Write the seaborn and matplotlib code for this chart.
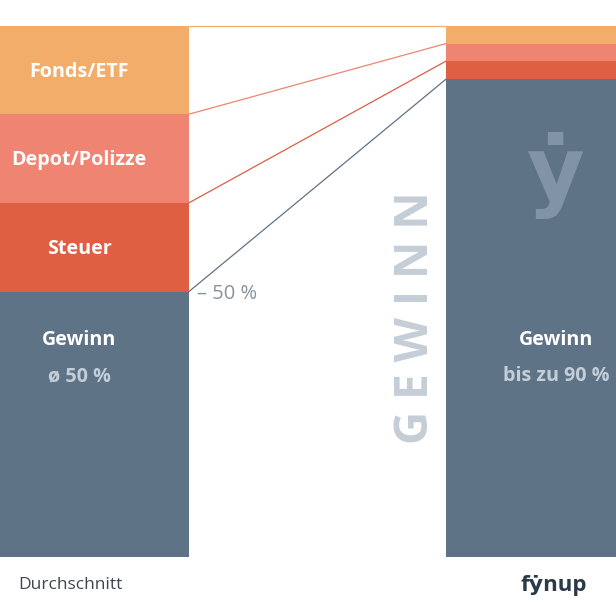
import numpy as np
import pandas as pd
import seaborn as sns
import matplotlib.pyplot as plt

# values, in percent of the gross return
categories = ["Durchschnitt", "fynup"]
gewinn = [50, 90]
steuer = [16.7, 3.4]
depot = [16.7, 3.3]
fonds = [16.6, 3.3]

segment_names = ["Gewinn", "Steuer", "Depot/Polizze", "Fonds/ETF"]
colors = ["#5e7386", "#de5f42", "#ee8471", "#f2ad6a"]

sns.set_theme(style="white")
plt.rcParams['font.family'] = ['Open Sans', 'DejaVu Sans']

df = pd.DataFrame({"cat": categories, "Gewinn": gewinn, "Steuer": steuer,
                   "Depot/Polizze": depot, "Fonds/ETF": fonds})
# cumulative tops, drawn from the tallest down so they stack
cum = df[segment_names].cumsum(axis=1)

fig = plt.figure(figsize=(6.16, 6.16), dpi=100)
ax = fig.add_axes([0, 0, 1, 1])

bar_w = 0.461
for name, c in reversed(list(zip(segment_names, colors))):
    sns.barplot(x=df["cat"], y=cum[name], color=c, width=bar_w, ax=ax,
                saturation=1, linewidth=0)

ax.set_xlim(-0.1656, 1.1258)
ax.set_ylim(-11.1, 104.9)
ax.axis("off")

# connector lines between the bars
x_left = 0 + bar_w / 2
x_right = 1 - bar_w / 2
for name, c in zip(segment_names, colors):
    ax.plot([x_left, x_right], [cum[name][0], cum[name][1]], color=c, lw=0.9)

# labels inside the left bar
fs = 14.2
bottoms = cum.shift(1, axis=1).fillna(0)
for name in segment_names[1:]:
    mid = bottoms[name][0] + df[name][0] / 2
    ax.text(0, mid - 0.3, name, ha="center", va="center", color="white",
            fontsize=fs, fontweight="bold")

ax.text(0, 40.9, "Gewinn", ha="center", va="center", color="white",
        fontsize=fs, fontweight="bold")
ax.text(0, 34.1, "ø %d %%" % gewinn[0], ha="center", va="center",
        color="#c3ced9", fontsize=fs, fontweight="bold")
ax.text(1, 40.9, "Gewinn", ha="center", va="center", color="white",
        fontsize=fs, fontweight="bold")
ax.text(1, 34.1, "bis zu %d %%" % gewinn[1], ha="center", va="center",
        color="#c3ced9", fontsize=fs, fontweight="bold")

ax.text(x_left + 0.017, gewinn[0] - 0.5, "\u2013 50 %", ha="left", va="center",
        color="#86939f", fontsize=14.5)

# watermark and vertical word
ax.text(1, 71.5, "\u1e8f", ha="center", va="center", color="#8194a7",
        fontsize=64, fontweight="bold")
fig.text(0.675, 0.484, "G E W I N N", rotation=90, ha="center", va="center",
         color="#c5cdd6", fontsize=33, fontweight="bold")

fig.text(0.030, 0.05, "Durchschnitt", ha="left", va="center",
         color="#3d4650", fontsize=12.5)
fig.text(0.953, 0.05, "f\u1e8fnup", ha="right", va="center",
         color="#2b3a48", fontsize=16, fontweight="bold")

fig.savefig("out.png", dpi=100)
